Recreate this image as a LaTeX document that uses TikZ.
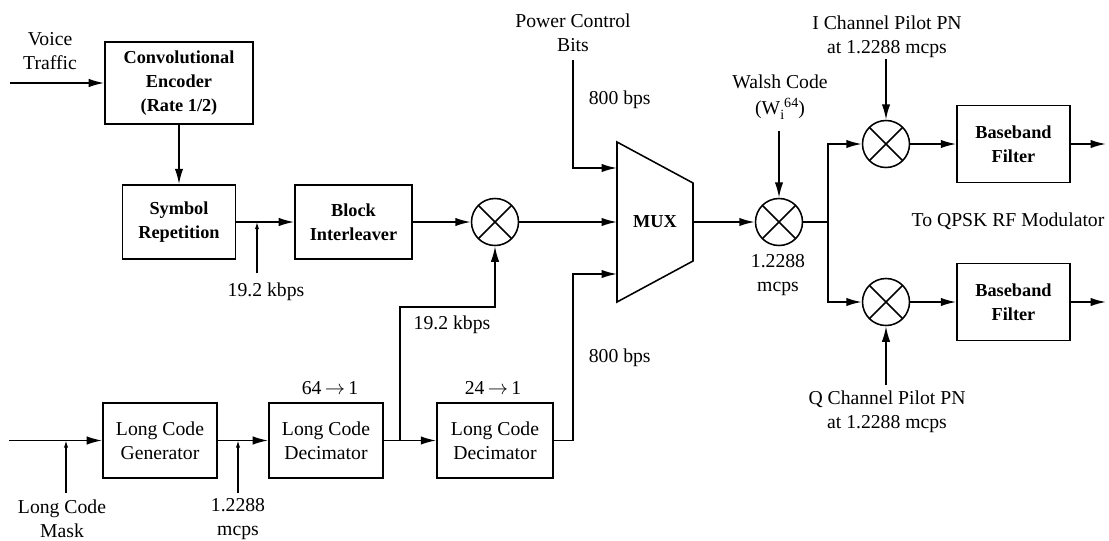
\documentclass[tikz,border=0pt]{standalone}
\usepackage{fontspec}
\setmainfont{Liberation Serif}
\usetikzlibrary{arrows.meta}

\begin{document}
\begin{tikzpicture}[x=0.025cm, y=-0.025cm, >={Latex[length=11pt,width=6pt]}, line width=1.2pt,
	every node/.style={font=\fontsize{14}{17}\selectfont, align=center, inner sep=0pt},
	blk/.style={draw, line width=1.1pt, minimum width=2.85cm, minimum height=1.875cm},
	boldtxt/.style={font=\fontsize{13}{17}\selectfont\bfseries},
	mixer/.style={draw, circle, line width=1.1pt, minimum size=1.175cm,
		path picture={\draw (path picture bounding box.north west) -- (path picture bounding box.south east)
			(path picture bounding box.north east) -- (path picture bounding box.south west);}},
	smallarr/.style={line width=0.8pt, -{Latex[length=5pt,width=3pt]}}]
	\useasboundingbox (0,0) rectangle (1109,540);
	
	% 1. 方框
	\node[blk, boldtxt, minimum width=3.7cm, minimum height=2.05cm] (conv) at (179,83) {Convolutional\\Encoder\\(Rate 1/2)};
	\node[blk, boldtxt, minimum width=2.825cm, minimum height=1.85cm] (rep) at (179,222) {Symbol\\Repetition};
	\node[blk, boldtxt, minimum width=2.925cm, minimum height=1.85cm] (intl) at (353.5,222) {Block\\Interleaver};
	\node[blk] (lcg) at (160,440.5) {Long Code\\Generator};
	\node[blk] (dec1) at (326,440.5) {Long Code\\Decimator};
	\node[blk, minimum width=2.9cm] (dec2) at (495,440.5) {Long Code\\Decimator};
	\node[blk, boldtxt, minimum width=2.825cm, minimum height=1.925cm] (bbI) at (1013.5,144) {Baseband\\Filter};
	\node[blk, boldtxt, minimum width=2.825cm, minimum height=1.925cm] (bbQ) at (1013.5,302) {Baseband\\Filter};
	
	% 2. 乘法器与 MUX
	\node[mixer] (m1) at (495,222) {};
	\node[mixer] (mw) at (779,222) {};
	\node[mixer] (mi) at (886,144) {};
	\node[mixer] (mq) at (886,302) {};
	\draw[line width=1.1pt] (617,142) -- (693,183) -- (693,261) -- (617,302) -- cycle;
	\node[boldtxt] (mux) at (655,222) {MUX};
	\coordinate (muxA) at (617,168);
	\coordinate (muxB) at (617,222);
	\coordinate (muxC) at (617,274);
	\coordinate (muxO) at (693,222);
	
	% 3. 文字标注
	\node (voice) at (50,51) {Voice\\Traffic};
	\node (pcb) at (573,33) {Power Control\\Bits};
	\node[anchor=west] (r800a) at (588,100) {800 bps};
	\node[anchor=west] (r800b) at (588,358) {800 bps};
	\node (r192a) at (266,292) {19.2 kbps};
	\node (r192b) at (452,325) {19.2 kbps};
	\node (walsh) at (780,82) {Walsh Code};
	\node (wcode) at (780,109) {(W\raisebox{-4pt}{\fontsize{10}{10}\selectfont i}\raisebox{4.5pt}{\fontsize{10}{10}\selectfont 64})};
	\node (chipw) at (778,275) {1.2288\\mcps};
	\node (ipn) at (887,37) {I Channel Pilot PN\\at 1.2288 mcps};
	\node (qpn) at (887,412) {Q Channel Pilot PN\\at 1.2288 mcps};
	\node (qpsk) at (1008,221) {To QPSK RF Modulator};
	\node (mask) at (62,519) {Long Code\\Mask};
	\node (chip) at (238,519) {1.2288\\mcps};
	\node (r64) at (330,388) {64\,$\rightarrow$\,1};
	\node (r24) at (493,388) {24\,$\rightarrow$\,1};
	
	% 4. 辅助点
	\coordinate (vin) at (10,83);
	\coordinate (pcin) at (573,60);
	\coordinate (wtop) at (779,131);
	\coordinate (split) at (828,222);
	\coordinate (iin) at (886,59);
	\coordinate (qin) at (886,385);
	\coordinate (outI) at (1106,144);
	\coordinate (outQ) at (1106,302);
	\coordinate (lcin) at (9,440.5);
	\coordinate (maskin) at (66,493);
	\coordinate (maskend) at (66,440.5);
	\coordinate (chipin) at (238,493);
	\coordinate (chipend) at (238,440.5);
	\coordinate (symin) at (257,273);
	\coordinate (symend) at (257,222);
	\coordinate (br) at (400,440.5);
	\coordinate (turn1) at (400,307);
	\coordinate (br2) at (573,440.5);
	
	% 5. 连线
	\draw[->] (vin) -- (conv);
	\draw[->] (conv) -- (rep);
	\draw[->] (rep) -- (intl);
	\draw[->] (intl) -- (m1);
	\draw[->] (m1) -- (muxB);
	\draw[->] (pcin) |- (muxA);
	\draw[->] (muxO) -- (mw);
	\draw[->] (wtop) -- (mw);
	\draw (mw) -- (split);
	\draw[->] (split) |- (mi);
	\draw[->] (split) |- (mq);
	\draw[->] (iin) -- (mi);
	\draw[->] (qin) -- (mq);
	\draw[->] (mi) -- (bbI);
	\draw[->] (mq) -- (bbQ);
	\draw[->] (bbI) -- (outI);
	\draw[->] (bbQ) -- (outQ);
	\draw[->] (lcin) -- (lcg);
	\draw[->] (lcg) -- (dec1);
	\draw (dec1) -- (br);
	\draw[->] (br) -- (dec2);
	\draw[->] (br) -- (turn1) -| (m1.south);
	\draw[->] (dec2) -- (br2) |- (muxC);
	\draw[smallarr] (maskin) -- (maskend);
	\draw[smallarr] (chipin) -- (chipend);
	\draw[smallarr] (symin) -- (symend);
\end{tikzpicture}
\end{document}
